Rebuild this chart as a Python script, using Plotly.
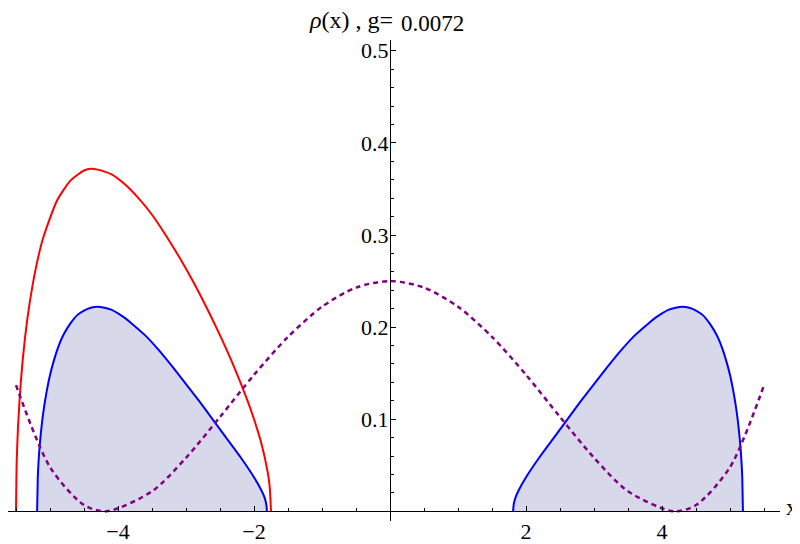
import plotly.graph_objects as go

# values
red_x = [-5.50, -5.49, -5.47, -5.43, -5.37, -5.30, -5.20, -5.10, -4.90, -4.70,
         -4.50, -4.40, -4.30, -4.10, -3.90, -3.70, -3.50, -3.30, -3.10, -2.90,
         -2.70, -2.50, -2.30, -2.10, -2.00, -1.90, -1.80, -1.77, -1.75]
red_y = [0.0, 0.054, 0.093, 0.140, 0.187, 0.226, 0.267, 0.297, 0.337, 0.359,
         0.370, 0.372, 0.371, 0.366, 0.355, 0.340, 0.322, 0.300, 0.276, 0.250,
         0.2215, 0.191, 0.158, 0.121, 0.100, 0.076, 0.043, 0.027, 0.0]

blue_left_x = [-5.19, -5.18, -5.17, -5.15, -5.10, -5.05, -5.00, -4.95, -4.90, -4.85,
               -4.80, -4.70, -4.60, -4.50, -4.40, -4.30, -4.20, -4.10, -4.00, -3.90,
               -3.80, -3.60, -3.40, -3.20, -3.00, -2.80, -2.60, -2.40, -2.20, -2.00,
               -1.90, -1.85, -1.82, -1.81]
blue_left_y = [0.0, 0.037, 0.052, 0.073, 0.107, 0.130, 0.148, 0.162, 0.174, 0.184,
               0.192, 0.204, 0.213, 0.218, 0.221, 0.222, 0.221, 0.219, 0.215, 0.210,
               0.204, 0.191, 0.175, 0.157, 0.138, 0.119, 0.099, 0.079, 0.059, 0.037,
               0.024, 0.016, 0.008, 0.0]

blue_right_x = [1.81, 1.82, 1.85, 1.90, 2.00, 2.20, 2.40, 2.60, 2.80, 3.00,
                3.20, 3.40, 3.60, 3.80, 3.90, 4.00, 4.10, 4.20, 4.30, 4.40,
                4.50, 4.60, 4.70, 4.80, 4.85, 4.90, 4.95, 5.00, 5.05, 5.10,
                5.15, 5.17, 5.18, 5.19]
blue_right_y = [0.0, 0.008, 0.016, 0.024, 0.037, 0.059, 0.079, 0.099, 0.119, 0.138,
                0.157, 0.175, 0.191, 0.204, 0.210, 0.215, 0.219, 0.221, 0.222, 0.221,
                0.218, 0.213, 0.204, 0.192, 0.184, 0.174, 0.162, 0.148, 0.130, 0.107,
                0.073, 0.052, 0.037, 0.0]

pot_x = [-5.5, -5.0, -4.5, -4.17, -3.5, -3.0, -2.5, -2.0, -1.5, -1.0, -0.5, 0.0,
         0.5, 1.0, 1.5, 2.0, 2.5, 3.0, 3.5, 4.17, 4.5, 5.0, 5.5]
pot_y = [0.137, 0.048, 0.0068, 0.0, 0.0218, 0.0581, 0.1025, 0.1482, 0.1894, 0.2221, 0.2429, 0.25,
         0.2429, 0.2221, 0.1894, 0.1482, 0.1025, 0.0581, 0.0218, 0.0, 0.0068, 0.048, 0.137]

x_ticks = [-4, -2, 2, 4]
x_ticktext = ["\u22124", "\u22122", "2", "4"]
y_ticks = [0.1, 0.2, 0.3, 0.4, 0.5]
y_ticktext = ["0.1", "0.2", "0.3", "0.4", "0.5"]
g_value = "0.0072"

fig = go.Figure()

for bx, by in ((blue_left_x, blue_left_y), (blue_right_x, blue_right_y)):
    fig.add_trace(go.Scatter(x=bx, y=by, mode="lines", fill="tozeroy",
                             fillcolor="rgb(216,216,235)",
                             line=dict(color="rgb(0,0,255)", width=2, shape="spline", smoothing=0.6)))

fig.add_trace(go.Scatter(x=red_x, y=red_y, mode="lines",
                         line=dict(color="rgb(255,0,0)", width=2, shape="spline", smoothing=0.6)))

fig.add_trace(go.Scatter(x=pot_x, y=pot_y, mode="lines",
                         line=dict(color="rgb(128,0,128)", width=2.5, dash="5px,4px",
                                   shape="spline", smoothing=0.8)))

# page has an 8px body margin, so the figure is 792x536
fig.update_layout(
    width=792, height=536,
    margin=dict(l=0, r=20, t=32, b=21),
    paper_bgcolor="white", plot_bgcolor="white",
    showlegend=False,
    font=dict(family="Liberation Serif", size=22, color="black"),
)

fig.update_xaxes(range=[-5.618, 5.735], anchor="free", position=0.0201,
                 showline=True, linecolor="black", linewidth=1,
                 showgrid=False, zeroline=False,
                 tickmode="array", tickvals=x_ticks, ticktext=x_ticktext,
                 ticks="inside", ticklen=5, tickcolor="black",
                 minor=dict(tickmode="linear", tick0=0, dtick=0.5, ticks="inside",
                            ticklen=3, tickcolor="black", showgrid=False))

fig.update_yaxes(range=[-0.0105, 0.5117], anchor="free", position=0.4948,
                 showline=True, linecolor="black", linewidth=1,
                 showgrid=False, zeroline=False,
                 tickmode="array", tickvals=y_ticks, ticktext=y_ticktext,
                 ticks="inside", ticklen=5, tickcolor="black", ticklabelstandoff=-3,
                 minor=dict(tickmode="linear", tick0=0, dtick=0.02, ticks="inside",
                            ticklen=3, tickcolor="black", showgrid=False))

# title in two parts, like the original
fig.add_annotation(text="<i>\u03c1</i>(x) , g=", xref="paper", yref="paper",
                   x=0.5013, y=1.0414, xanchor="right", yanchor="middle",
                   showarrow=False, font=dict(size=24))
fig.add_annotation(text=g_value, xref="paper", yref="paper",
                   x=0.507, y=1.034, xanchor="left", yanchor="middle",
                   showarrow=False, font=dict(size=23))
# axis label x
fig.add_annotation(text="x", xref="paper", yref="paper",
                   x=1.0155, y=0.029, xanchor="center", yanchor="middle",
                   showarrow=False, font=dict(size=23))

fig.write_html("out.html")
